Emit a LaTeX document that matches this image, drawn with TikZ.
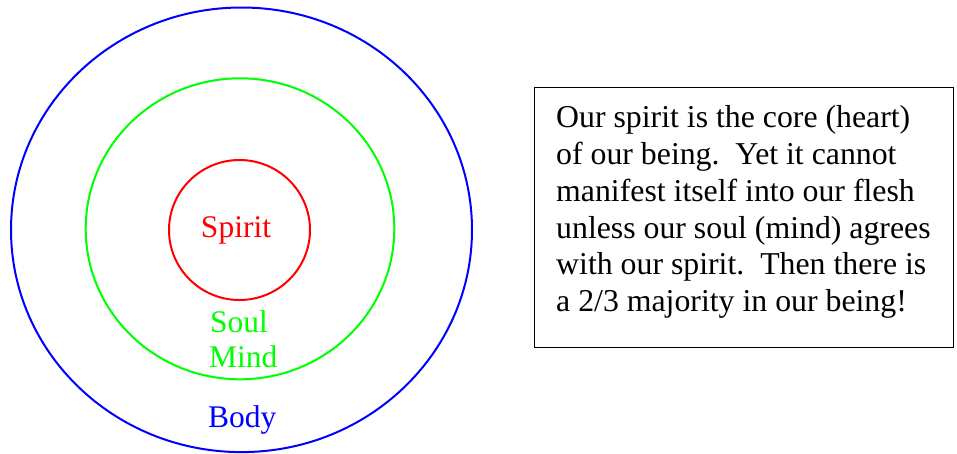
\documentclass[tikz,border=0pt]{standalone}
\usepackage{fontspec}
\setmainfont{Liberation Serif}
\begin{document}
\begin{tikzpicture}[x=1pt,y=-1pt,
  ring/.style={line width=2pt},
  lbl/.style={inner sep=0pt,font=\fontsize{31.5}{37.8}\selectfont},
  note/.style={inner sep=0pt,align=left,font=\fontsize{31.8}{36.8}\selectfont}]
\useasboundingbox (0,0) rectangle (957,453);
% rings
\draw[ring,blue] (241.5,229.8) ellipse [x radius=230.5, y radius=222.3];
\draw[ring,green] (240,228.8) ellipse [x radius=154.3, y radius=150.5];
\draw[ring,red] (239.5,230) ellipse [x radius=70.5, y radius=70];
% labels
\node[lbl,red,anchor=base] (spirit) at (236,237) {Spirit};
\node[lbl,green,anchor=base west] (soul) at (210,332) {Soul};
\node[lbl,green,anchor=base west] (mind) at (209,367) {Mind};
\node[lbl,blue,anchor=base west] (body) at (208,427) {Body};
% note box
\node[draw,line width=1.3pt,minimum width=419pt,minimum height=260pt,anchor=north west] (box) at (534,87) {};
\node[note,anchor=base west] (text) at (556,311.7) {Our spirit is the core (heart)\\of our being.\ \ Yet it cannot\\manifest itself into our flesh\\unless our soul (mind) agrees\\with our spirit.\ \ Then there is\\a 2/3 majority in our being!};
\end{tikzpicture}
\end{document}
